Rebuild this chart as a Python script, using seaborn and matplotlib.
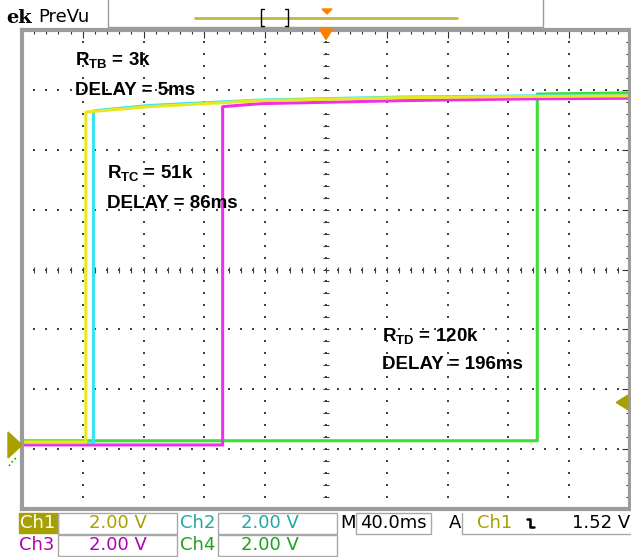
import numpy as np
import pandas as pd
import matplotlib.pyplot as plt
from matplotlib.patches import Rectangle, Polygon
import seaborn as sns

# Trace data: time in ms (40 ms/div, trigger at centre), level in divisions (2 V/div)
ch1_t = [-200, -158, -158, -116, -43, 49, 134, 200]
ch1_v = [-2.88, -2.88, 2.63, 2.72, 2.82, 2.87, 2.89, 2.90]
ch2_t = [-200, -153, -153, -116, -43, 49, 134, 200]
ch2_v = [-2.89, -2.89, 2.65, 2.74, 2.83, 2.88, 2.90, 2.91]
ch3_t = [-200, -68, -68, -43, 49, 134, 200]
ch3_v = [-2.93, -2.93, 2.72, 2.77, 2.82, 2.85, 2.86]
ch4_t = [-200, 139, 139, 200]
ch4_v = [-2.86, -2.86, 2.93, 2.95]

channels = ["Ch1", "Ch2", "Ch3", "Ch4"]
trace_colors = {"Ch1": "#e8e820", "Ch2": "#38e4f0", "Ch3": "#f030e8", "Ch4": "#38e038"}
text_colors = {"Ch1": "#a8a000", "Ch2": "#20a8a8", "Ch3": "#b000b0", "Ch4": "#20a020"}
volts_per_div = ["2.00 V", "2.00 V", "2.00 V", "2.00 V"]
timebase = "40.0ms"
trig_level = "1.52 V"

labels = [("R$_{\\mathbf{TB}}$ = 3k", "DELAY = 5ms", -165, 3.40, 2.92),
          ("R$_{\\mathbf{TC}}$ = 51k", "DELAY = 86ms", -144, 1.52, 1.03),
          ("R$_{\\mathbf{TD}}$ = 120k", "DELAY = 196ms", 37, -1.20, -1.67)]

frames = []
for name, t, v in [("Ch1", ch1_t, ch1_v), ("Ch2", ch2_t, ch2_v),
                   ("Ch3", ch3_t, ch3_v), ("Ch4", ch4_t, ch4_v)]:
    frames.append(pd.DataFrame({"t": t, "v": v, "ch": name}))
df = pd.concat(frames, ignore_index=True)

sns.set_style("white")
plt.rcParams["font.family"] = ["DejaVu Sans"]
plt.rcParams["text.color"] = "black"
plt.rcParams["mathtext.fontset"] = "custom"
plt.rcParams["mathtext.bf"] = "Liberation Sans:bold"
plt.rcParams["mathtext.rm"] = "Liberation Sans"

W, H = 631, 557
fig = plt.figure(figsize=(W / 100, H / 100), dpi=100)
ax = fig.add_axes([22 / W, (H - 509) / H, 608 / W, 479 / H])

sns.lineplot(data=df, x="t", y="v", hue="ch", hue_order=["Ch4", "Ch3", "Ch2", "Ch1"],
             palette=trace_colors, sort=False, estimator=None, linewidth=2.2,
             legend=False, ax=ax)

ax.set_xlim(-200, 200)
ax.set_ylim(-4, 4)
ax.set_xlabel("")
ax.set_ylabel("")

# graticule dots
gx, gy = [], []
for xv in np.arange(-160, 161, 40):
    for yv in np.arange(-4, 4.01, 0.2):
        gx.append(xv); gy.append(yv)
for yv in np.arange(-3, 3.01, 1):
    for xv in np.arange(-200, 200.1, 8):
        gx.append(xv); gy.append(yv)
ax.scatter(gx, gy, s=1.6, marker="s", color="#404040", linewidths=0, zorder=1)
# centre line cross ticks
cy = np.arange(-4, 4.01, 0.2)
ax.scatter(np.zeros_like(cy), cy, s=18, marker="_", color="#404040", linewidths=0.8, zorder=1)
cx = np.arange(-200, 200.1, 8)
ax.scatter(cx, np.zeros_like(cx), s=18, marker="|", color="#404040", linewidths=0.8, zorder=1)

# border ruler
for sp in ax.spines.values():
    sp.set_color("#9c9c9c")
    sp.set_linewidth(3)
ax.set_xticks(np.arange(-200, 201, 40))
ax.set_xticks(np.arange(-200, 201, 8), minor=True)
ax.set_yticks(np.arange(-4, 4.01, 1))
ax.set_yticks(np.arange(-4, 4.01, 0.2), minor=True)
ax.tick_params(which="both", direction="in", color="#303030", width=0.8,
               top=True, right=True, labelbottom=False, labelleft=False)
ax.tick_params(which="major", length=6)
ax.tick_params(which="minor", length=3)

# annotations
for rname, dname, tx, y1, y2 in labels:
    ax.text(tx, y1, rname, fontsize=13.5, fontweight="bold", family="Liberation Sans",
            color="black", va="baseline", ha="left", zorder=10)
    ax.text(tx, y2, dname, fontsize=13.5, fontweight="bold", family="Liberation Sans",
            color="black", va="baseline", ha="left", zorder=10)

# trigger level arrow (right edge) and trigger position marker (top)
ax.add_patch(Polygon([[191, -2.22], [198.5, -2.10], [198.5, -2.34]], closed=True,
                     color="#a8a000", clip_on=False, zorder=5))
ax.add_patch(Polygon([[-4.5, 4.02], [4.5, 4.02], [0, 3.84]], closed=True,
                     color="#ff8000", clip_on=False, zorder=5))

# screen chrome
ov = fig.add_axes([0, 0, 1, 1], zorder=5)
ov.set_xlim(0, W)
ov.set_ylim(H, 0)
ov.axis("off")
ov.patch.set_visible(False)

ov.text(6, 18, "ek", fontsize=14, fontweight="bold", family="DejaVu Serif", va="center")
ov.text(38, 17, "PreVu", fontsize=13, va="center")
ov.plot([108, 108, 543, 543], [0, 27, 27, 0], color="#9c9c9c", lw=1)
ov.plot([195, 457], [18, 18], color="#c0b840", lw=2)
ov.plot([264, 261, 261, 264], [9, 9, 26, 26], color="black", lw=1)
ov.plot([285, 288, 288, 285], [9, 9, 26, 26], color="black", lw=1)
ov.add_patch(Polygon([[322, 9], [332, 9], [327, 14]], closed=True, color="#ff8000"))

# ground marker (left)
ov.add_patch(Polygon([[8, 432], [8, 458], [22, 445]], closed=True, color="#a8a000"))
ov.plot([9, 11, 14, 17], [466, 463, 460, 457], color="#20a020", lw=1.2, ls=":")

# status bar
box_c = "#a8a8a8"
def box(x0, x1, y0, y1):
    ov.add_patch(Rectangle((x0, y0), x1 - x0, y1 - y0, fill=False, ec=box_c, lw=1))

ov.add_patch(Rectangle((19, 513), 39, 20, color=text_colors["Ch1"]))
ov.text(38, 523, "Ch1", color="white", fontsize=13, ha="center", va="center")
box(58, 177, 513, 534)
ov.text(118, 523, volts_per_div[0], color=text_colors["Ch1"], fontsize=13, ha="center", va="center")
ov.text(198, 523, "Ch2", color=text_colors["Ch2"], fontsize=13, ha="center", va="center")
box(218, 337, 513, 534)
ov.text(270, 523, volts_per_div[1], color=text_colors["Ch2"], fontsize=13, ha="center", va="center")
ov.text(340, 523, "M", color="black", fontsize=13, ha="left", va="center")
box(356, 431, 513, 534)
ov.text(393, 523, timebase, color="black", fontsize=13, ha="center", va="center")
ov.text(449, 523, "A", color="black", fontsize=13, ha="left", va="center")
ov.plot([462, 462, 640], [513, 534, 534], color=box_c, lw=1)
ov.text(495, 523, "Ch1", color=text_colors["Ch1"], fontsize=13, ha="center", va="center")
ov.plot([527, 530, 530, 534], [519, 519, 527, 527], color="black", lw=1.8)
ov.text(630, 523, trig_level, color="black", fontsize=13, ha="right", va="center")

ov.text(37, 545, "Ch3", color=text_colors["Ch3"], fontsize=13, ha="center", va="center")
box(58, 177, 535, 556)
ov.text(118, 545, volts_per_div[2], color=text_colors["Ch3"], fontsize=13, ha="center", va="center")
ov.text(198, 545, "Ch4", color=text_colors["Ch4"], fontsize=13, ha="center", va="center")
box(218, 337, 535, 556)
ov.text(270, 545, volts_per_div[3], color=text_colors["Ch4"], fontsize=13, ha="center", va="center")

fig.savefig("out.png", dpi=100)
